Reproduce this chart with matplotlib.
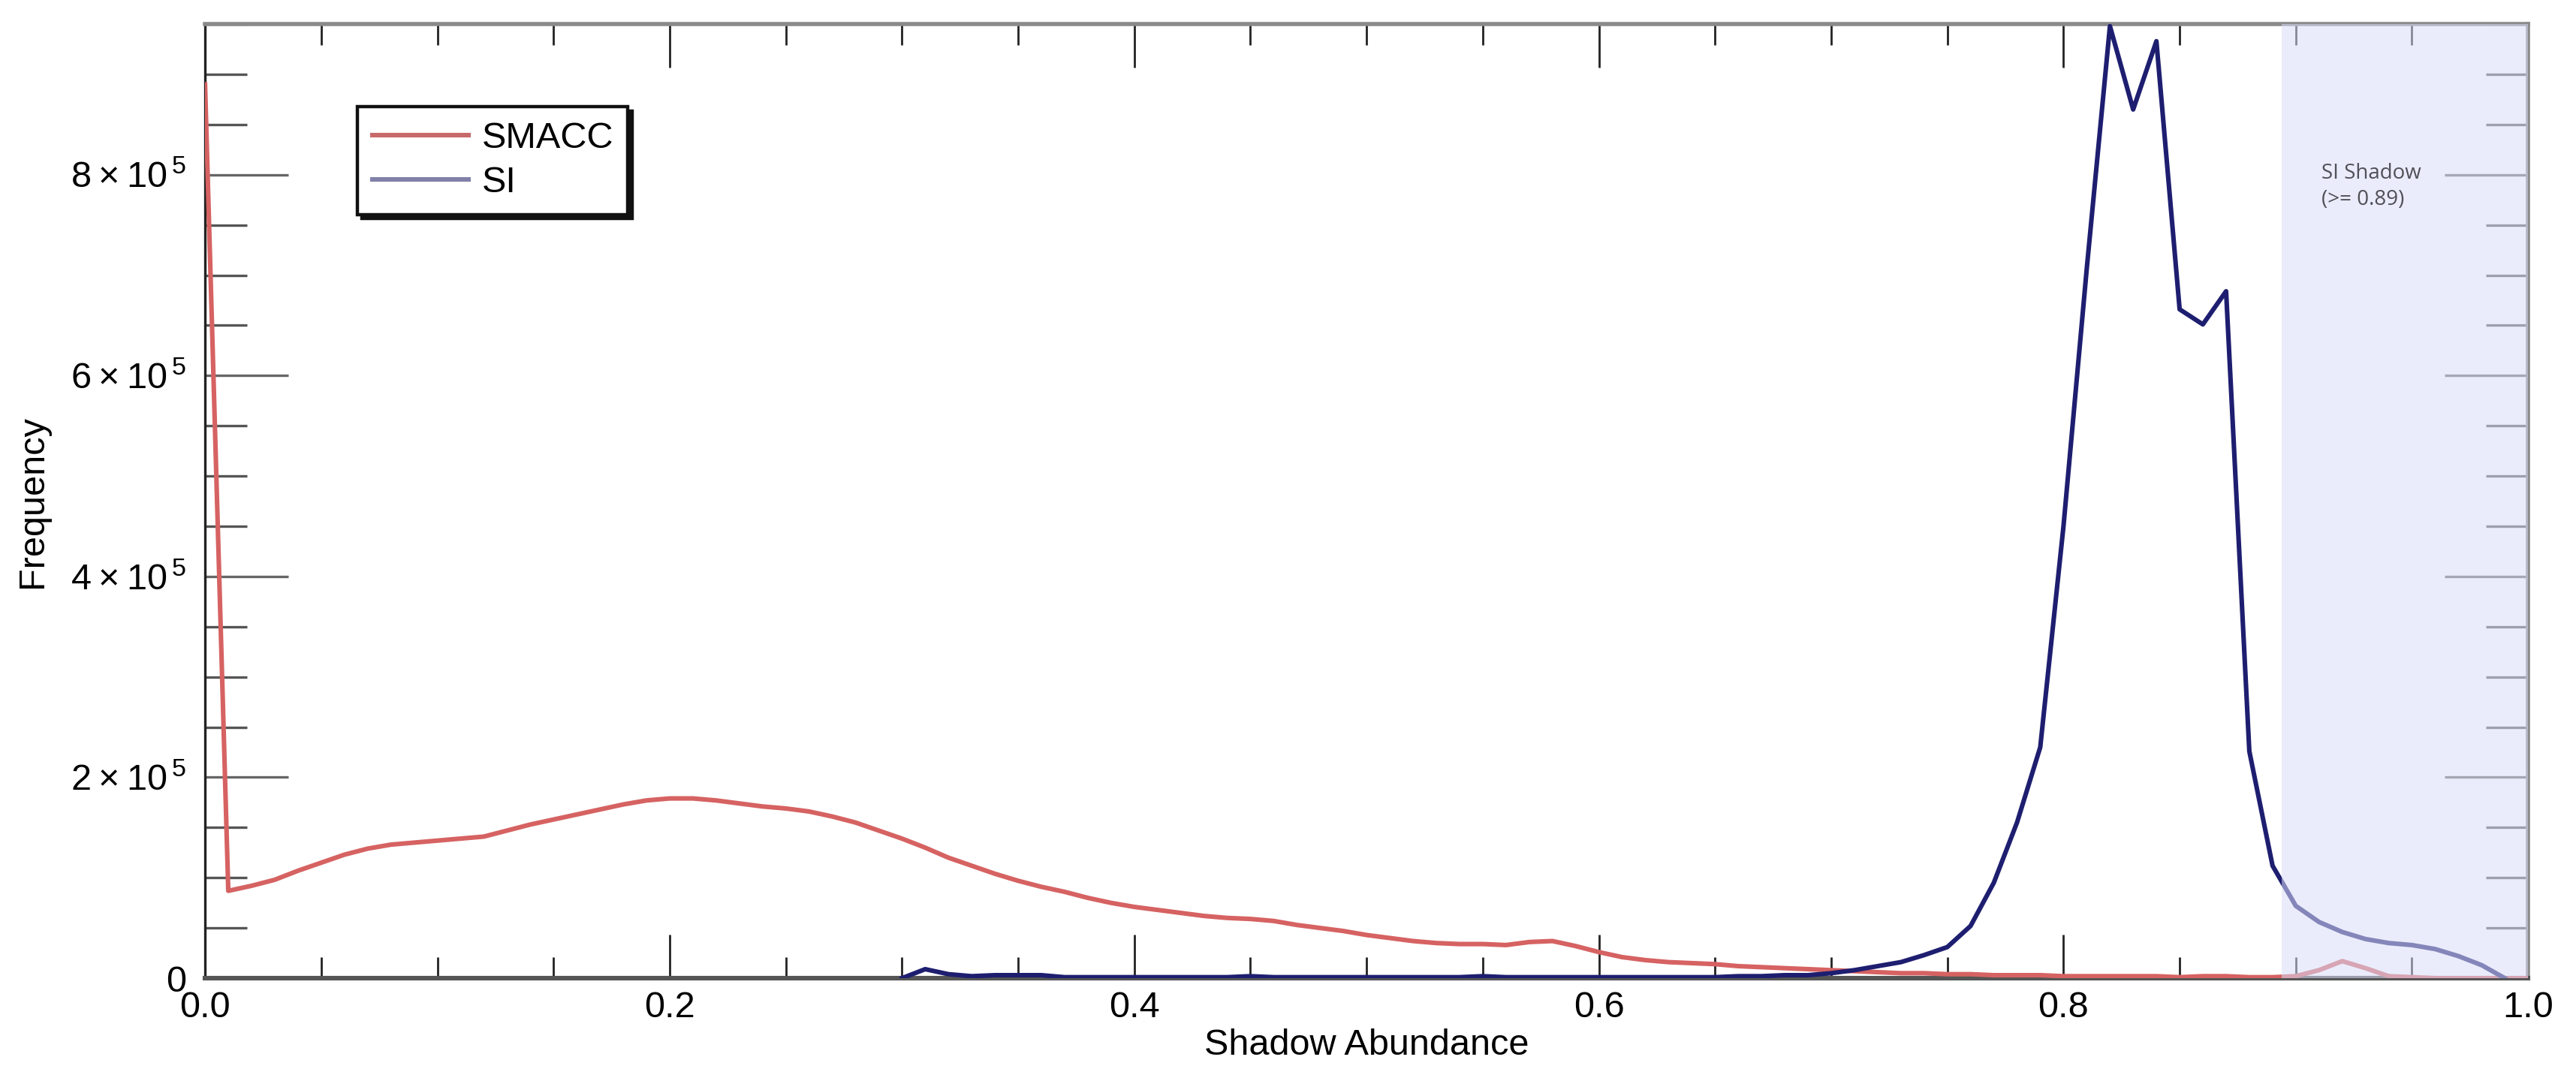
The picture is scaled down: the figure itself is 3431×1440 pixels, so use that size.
import numpy as np
import matplotlib
matplotlib.use("Agg")
import matplotlib.pyplot as plt
from matplotlib.ticker import MultipleLocator, FuncFormatter
from matplotlib.lines import Line2D

plt.rcParams["font.family"] = ["Liberation Sans", "DejaVu Sans"]
plt.rcParams["mathtext.fontset"] = "custom"
plt.rcParams["mathtext.rm"] = "Liberation Sans"
plt.rcParams["mathtext.default"] = "rm"

# ---------------------------------------------------------------- data (histogram bins, step 0.01)
abundance = [
    0.00, 0.01, 0.02, 0.03, 0.04, 0.05, 0.06, 0.07, 0.08, 0.09,
    0.10, 0.11, 0.12, 0.13, 0.14, 0.15, 0.16, 0.17, 0.18, 0.19,
    0.20, 0.21, 0.22, 0.23, 0.24, 0.25, 0.26, 0.27, 0.28, 0.29,
    0.30, 0.31, 0.32, 0.33, 0.34, 0.35, 0.36, 0.37, 0.38, 0.39,
    0.40, 0.41, 0.42, 0.43, 0.44, 0.45, 0.46, 0.47, 0.48, 0.49,
    0.50, 0.51, 0.52, 0.53, 0.54, 0.55, 0.56, 0.57, 0.58, 0.59,
    0.60, 0.61, 0.62, 0.63, 0.64, 0.65, 0.66, 0.67, 0.68, 0.69,
    0.70, 0.71, 0.72, 0.73, 0.74, 0.75, 0.76, 0.77, 0.78, 0.79,
    0.80, 0.81, 0.82, 0.83, 0.84, 0.85, 0.86, 0.87, 0.88, 0.89,
    0.90, 0.91, 0.92, 0.93, 0.94, 0.95, 0.96, 0.97, 0.98, 0.99,
    1.00,
]

# SMACC frequency, units of 1e5
smacc = [
    8.90, 0.87, 0.92, 0.98, 1.07, 1.15, 1.23, 1.29, 1.33, 1.35,
    1.37, 1.39, 1.41, 1.47, 1.53, 1.58, 1.63, 1.68, 1.73, 1.77,
    1.79, 1.79, 1.77, 1.74, 1.71, 1.69, 1.66, 1.61, 1.55, 1.47,
    1.39, 1.30, 1.20, 1.12, 1.04, 0.97, 0.91, 0.86, 0.80, 0.75,
    0.71, 0.68, 0.65, 0.62, 0.60, 0.59, 0.57, 0.53, 0.50, 0.47,
    0.43, 0.40, 0.37, 0.35, 0.34, 0.34, 0.33, 0.36, 0.37, 0.32,
    0.26, 0.21, 0.18, 0.16, 0.15, 0.14, 0.12, 0.11, 0.10, 0.09,
    0.08, 0.07, 0.06, 0.05, 0.05, 0.04, 0.04, 0.03, 0.03, 0.03,
    0.02, 0.02, 0.02, 0.02, 0.02, 0.01, 0.02, 0.02, 0.01, 0.01,
    0.02, 0.08, 0.17, 0.10, 0.02, 0.01, 0.00, 0.00, 0.00, 0.00,
    0.00,
]

# SI frequency, units of 1e5, bins 0.30 .. 0.99
si_start = 30
si = [
    0.00, 0.09, 0.04, 0.02, 0.03, 0.03, 0.03, 0.01, 0.01, 0.01,
    0.01, 0.01, 0.01, 0.01, 0.01, 0.02, 0.01, 0.01, 0.01, 0.01,
    0.01, 0.01, 0.01, 0.01, 0.01, 0.02, 0.01, 0.01, 0.01, 0.01,
    0.01, 0.01, 0.01, 0.01, 0.01, 0.01, 0.02, 0.02, 0.03, 0.03,
    0.05, 0.08, 0.12, 0.16, 0.23, 0.31, 0.52, 0.95, 1.55, 2.30,
    4.50, 7.06, 9.48, 8.65, 9.33, 6.66, 6.51, 6.84, 2.26, 1.12,
    0.72, 0.56, 0.46, 0.39, 0.35, 0.33, 0.29, 0.22, 0.13, 0.00,
]

shadow_threshold = 0.894

x = np.array(abundance)
y_smacc = np.array(smacc) * 1e5
x_si = x[si_start:si_start + len(si)]
y_si = np.array(si) * 1e5

# ---------------------------------------------------------------- figure
fig = plt.figure(figsize=(17.155, 7.2), dpi=200)
ax = fig.add_axes([0.0796, 0.0951, 0.9018, 0.8826])

ax.plot(x, y_smacc, color="#d66262", lw=2.2, zorder=3)
ax.plot(x_si, y_si, color="#1e1e70", lw=2.2, zorder=3)

# shaded SI shadow region (drawn over the lines, lightens them)
ax.axvspan(shadow_threshold, 1.0, facecolor="#d9ddf8", alpha=0.55, lw=0, zorder=4)
ax.text(0.911, 8.12e5, "SI Shadow\n(>= 0.89)", family=["Open Sans", "DejaVu Sans"],
        fontsize=10, color="#505058", ha="left", va="top", linespacing=1.35, zorder=6)

# ---------------------------------------------------------------- axes
ax.set_xlim(0, 1.0)
ax.set_ylim(0, 9.5e5)
ax.xaxis.set_major_locator(MultipleLocator(0.2))
ax.xaxis.set_minor_locator(MultipleLocator(0.05))
ax.yaxis.set_major_locator(MultipleLocator(2e5))
ax.yaxis.set_minor_locator(MultipleLocator(5e4))
ax.xaxis.set_major_formatter(FuncFormatter(lambda v, p: f"{v:.1f}"))


def yfmt(v, p):
    if abs(v) < 1:
        return "0"
    return "%d\u2009\u00d7\u200910$^{\\,5}$" % round(v / 1e5)


ax.yaxis.set_major_formatter(FuncFormatter(yfmt))

ax.tick_params(axis="x", which="major", direction="in", length=21, width=1.0,
               color="#222222", top=True, bottom=True, labelsize=17.5, pad=6)
ax.tick_params(axis="x", which="minor", direction="in", length=10, width=1.0,
               color="#222222", top=True, bottom=True)
ax.tick_params(axis="y", which="major", direction="in", length=40, width=1.2,
               color="#666666", left=True, right=True, labelsize=17.5, pad=9)
ax.tick_params(axis="y", which="minor", direction="in", length=20, width=1.2,
               color="#555555", left=True, right=True)

ax.spines["left"].set_color("#222222")
ax.spines["left"].set_linewidth(1.2)
ax.spines["bottom"].set_color("#555555")
ax.spines["bottom"].set_linewidth(2.2)
ax.spines["top"].set_color("#8a8a8a")
ax.spines["top"].set_linewidth(2.0)
ax.spines["right"].set_color("#8a8a8a")
ax.spines["right"].set_linewidth(2.0)

ax.set_xlabel("Shadow Abundance", fontsize=17.5, labelpad=2)
ax.set_ylabel("Frequency", fontsize=17.5, labelpad=10)

# ---------------------------------------------------------------- legend with drop shadow
handles = [
    Line2D([0], [0], color="#c86a6a", lw=2.2, label="SMACC"),
    Line2D([0], [0], color="#8080a8", lw=2.2, label="SI"),
]
leg = ax.legend(handles=handles, loc="upper left", bbox_to_anchor=(0.0656, 0.9134),
                borderaxespad=0, fontsize=17.5, handlelength=2.65, handletextpad=0.35,
                borderpad=0.4, labelspacing=0.3, fancybox=False, framealpha=1,
                edgecolor="#111111", shadow={"color": "#111111", "alpha": 1.0})
leg.get_frame().set_linewidth(1.6)
leg.set_zorder(7)

fig.savefig("out.png", dpi=200)
